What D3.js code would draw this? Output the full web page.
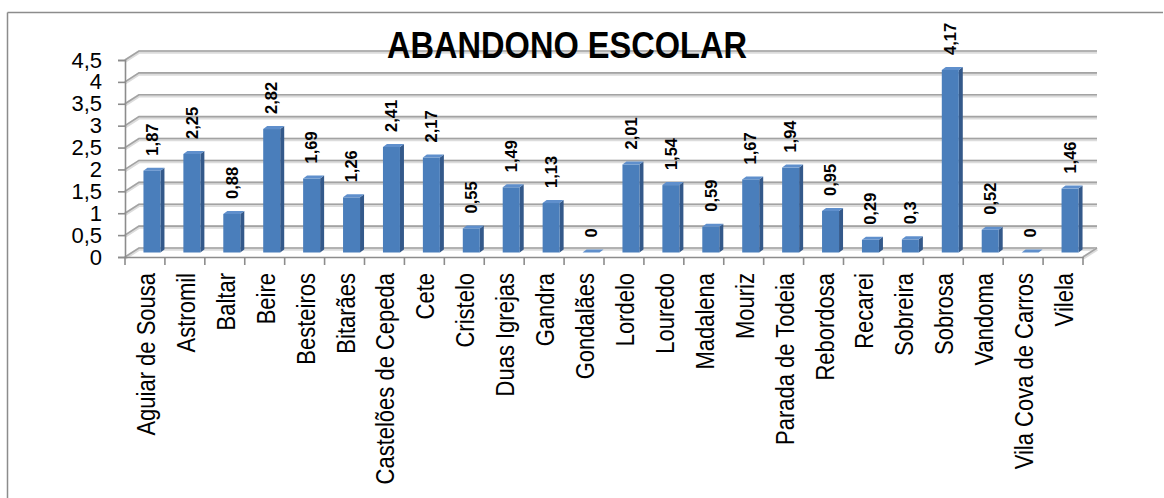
<!DOCTYPE html>
<html><head><meta charset="utf-8">
<script src="https://cdn.jsdelivr.net/npm/d3@7"></script>
<style>
html,body{margin:0;padding:0;background:#fff;}
svg{display:block;font-family:"Liberation Sans",Arial,sans-serif;}
</style></head>
<body>
<script>
const categories = ["Aguiar de Sousa","Astromil","Baltar","Beire","Besteiros","Bitarães","Castelões de Cepeda","Cete","Cristelo","Duas Igrejas","Gandra","Gondalães","Lordelo","Louredo","Madalena","Mouriz","Parada de  Todeia","Rebordosa","Recarei","Sobreira","Sobrosa","Vandoma","Vila Cova de Carros","Vilela"];
const values = [1.87,2.25,0.88,2.82,1.69,1.26,2.41,2.17,0.55,1.49,1.13,0,2.01,1.54,0.59,1.67,1.94,0.95,0.29,0.3,4.17,0.52,0,1.46];
const yTicks = [0,0.5,1,1.5,2,2.5,3,3.5,4,4.5];
const title = "ABANDONO ESCOLAR";

const W = 1164, H = 498;
const svg = d3.select("body").append("svg").attr("width", W).attr("height", H);
const fmt = v => String(v).replace(".", ",");

// frame (top and left)
svg.append("line").attr("x1",7.5).attr("x2",1163).attr("y1",12.5).attr("y2",12.5).attr("stroke","#8c8c8c").attr("stroke-width",1.5);
svg.append("line").attr("x1",7.5).attr("x2",7.5).attr("y1",12.5).attr("y2",H).attr("stroke","#8c8c8c").attr("stroke-width",1.5);

const x = d3.scaleBand().domain(categories).range([125, 1083]).padding(0);
const y = d3.scaleLinear().domain([0, 4.5]).range([257, 60]);
const DX = 14, DY = -9; // depth offset of back wall

// back wall gridlines + side wall diagonals
const grid = svg.append("g");
yTicks.forEach(t => {
  const yf = y(t), yb = y(t) + DY;
  const path = `M${x.range()[0]},${yf} L${x.range()[0]+DX},${yb} L${x.range()[1]+DX},${yb}`;
  grid.append("path").attr("d", path).attr("fill","none").attr("stroke","#dcdcdc").attr("stroke-width",3.5).attr("transform","translate(0,1)");
  grid.append("path").attr("d", path).attr("fill","none").attr("stroke","#a3a3a3").attr("stroke-width",1.6);
});
// floor outline
const x0 = x.range()[0], x1 = x.range()[1];
grid.append("path").attr("d", `M${x1},${y(0)} L${x1+DX},${y(0)+DY}`).attr("fill","none").attr("stroke","#dcdcdc").attr("stroke-width",3.5).attr("transform","translate(0,1)");
grid.append("path").attr("d", `M${x1},${y(0)} L${x1+DX},${y(0)+DY}`).attr("fill","none").attr("stroke","#a3a3a3").attr("stroke-width",1.6);

// bars (3D-ish)
const bw = 17, sd = 4, sh = -3;
const bars = svg.append("g");
const base = y(0) + DY/2;
categories.forEach((c, i) => {
  const v = values[i];
  const cx = x(c) + x.bandwidth()/2 + DX/2;
  const xl = cx - bw/2, xr = cx + bw/2;
  const top = base - (y(0) - y(v));
  // side
  bars.append("path").attr("d", `M${xr},${base} L${xr+sd},${base+sh} L${xr+sd},${top+sh} L${xr},${top} Z`).attr("fill","#34598a");
  // front
  bars.append("rect").attr("x", xl).attr("y", top).attr("width", bw).attr("height", Math.max(0, base-top)).attr("fill","#4a7ebb");
  // top
  bars.append("path").attr("d", `M${xl},${top} L${xl+sd},${top+sh} L${xr+sd},${top+sh} L${xr},${top} Z`).attr("fill","#5f8fcc");
  // label
  bars.append("text").attr("transform", `translate(${cx},${top-15}) rotate(-90)`)
    .attr("dy","0.35em").attr("text-anchor","start")
    .attr("font-size",16.5).attr("font-weight","bold").attr("fill","#000").text(fmt(v));
});

// y axis
const yAxis = svg.append("g").attr("transform", `translate(${x0},0)`)
  .call(d3.axisLeft(y).tickValues(yTicks).tickSize(7).tickPadding(16).tickFormat(fmt));
yAxis.select(".domain").attr("stroke","#8c8c8c").attr("stroke-width",1.6);
yAxis.selectAll(".tick line").attr("stroke","#8c8c8c").attr("stroke-width",1.6);
yAxis.selectAll(".tick text").attr("font-size",22).attr("fill","#000").attr("font-family","Liberation Sans, Arial, sans-serif");

// x axis
const xAxis = svg.append("g").attr("transform", `translate(0,${y(0)})`)
  .call(d3.axisBottom(x).tickSize(0).tickPadding(0));
xAxis.select(".domain").attr("stroke","#8c8c8c").attr("stroke-width",1.6);
xAxis.selectAll(".tick text")
  .attr("font-size",25).attr("fill","#000").attr("font-family","Liberation Sans, Arial, sans-serif")
  .attr("text-anchor","end").attr("y",0).attr("x",0).attr("dy",0)
  .attr("transform", "translate(10,16) rotate(-90) scale(0.88,1)");
// boundary ticks
const bounds = categories.map(c => x(c)).concat([x1]);
svg.append("g").selectAll("line").data(bounds).join("line")
  .attr("x1", d => d).attr("x2", d => d).attr("y1", y(0)).attr("y2", y(0)+8)
  .attr("stroke","#8c8c8c").attr("stroke-width",1.6);

// title
svg.append("text").attr("transform","translate(567,58) scale(0.88,1)")
  .attr("text-anchor","middle").attr("font-size",37).attr("font-weight","bold")
  .attr("fill","#000").text(title);
</script>
</body></html>
